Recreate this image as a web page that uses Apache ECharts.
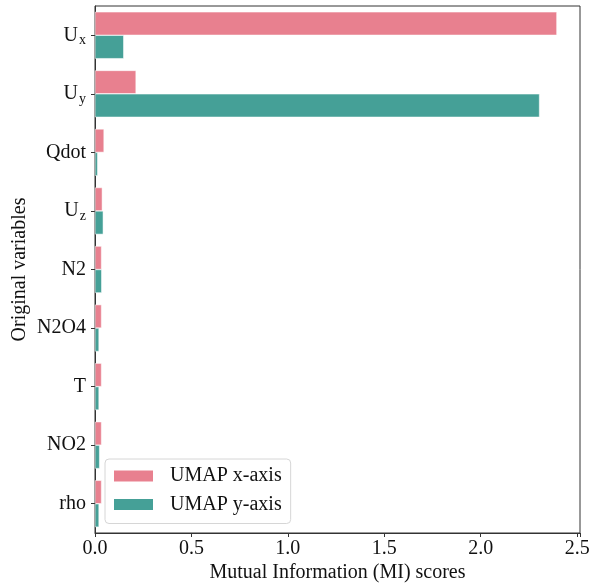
<!DOCTYPE html>
<html>
<head>
<meta charset="utf-8">
<script src="https://cdn.jsdelivr.net/npm/echarts@6/dist/echarts.min.js"></script>
<style>
  html, body { margin: 0; padding: 0; background: #fff; }
  #chart { width: 596px; height: 584px; }
</style>
</head>
<body>
<div id="chart"></div>
<script>
// Variables, top to bottom
const variables = ['Ux', 'Uy', 'Qdot', 'Uz', 'N2', 'N2O4', 'T', 'NO2', 'rho'];
// Mutual information of each variable with the UMAP coordinates
const miUmapX = [2.395, 0.213, 0.047, 0.038, 0.034, 0.034, 0.034, 0.034, 0.034];
const miUmapY = [0.149, 2.305, 0.014, 0.043, 0.035, 0.021, 0.021, 0.024, 0.021];
const seriesNames = ['UMAP x-axis', 'UMAP y-axis'];
const xTicks = [0, 0.5, 1.0, 1.5, 2.0, 2.5];

const FONT = 'Liberation Serif';
const FS = 20;
const pink = '#e8808f';
const teal = '#45a097';

const xMax = Math.max(...miUmapX, ...miUmapY) * 1.05;

// Velocity components get a subscript
function catLabel(v) {
  const m = /^U([xyz])$/.exec(v);
  if (m) return '{u|U}{s|' + m[1] + '}';
  return '{u|' + v + '}';
}

const chart = echarts.init(document.getElementById('chart'), null, { renderer: 'canvas' });
chart.setOption({
  animation: false,
  backgroundColor: '#fff',
  textStyle: { fontFamily: FONT },
  grid: {
    left: 95, right: 16, top: 6, bottom: 51,
    outerBoundsMode: 'none',
    containLabel: false,
    show: true, borderColor: '#333', borderWidth: 1, backgroundColor: 'transparent'
  },
  legend: {
    orient: 'vertical',
    left: 105, top: 459,
    padding: [7, 9, 9, 7],
    itemGap: 8.5,
    itemWidth: 41, itemHeight: 13,
    borderColor: '#d6d6d6', borderWidth: 1, borderRadius: 4,
    backgroundColor: 'rgba(255,255,255,0.8)',
    icon: 'rect',
    textStyle: { fontFamily: FONT, fontSize: FS, color: '#111', padding: [0, 0, 0, 11] },
    data: seriesNames
  },
  xAxis: {
    type: 'value',
    min: 0,
    max: xMax,
    interval: 0.5,
    name: 'Mutual Information (MI) scores',
    nameLocation: 'middle',
    nameGap: 30,
    nameMoveOverlap: false,
    nameTextStyle: { fontFamily: FONT, fontSize: FS, color: '#111' },
    axisLine: { show: true, lineStyle: { color: '#333', width: 1 } },
    axisTick: { show: true, length: 4, lineStyle: { color: '#333' } },
    axisLabel: {
      fontFamily: FONT, fontSize: FS, color: '#111', margin: 6,
      formatter: v => xTicks.some(t => Math.abs(t - v) < 1e-9) ? v.toFixed(1) : ''
    },
    splitLine: { show: false }
  },
  yAxis: {
    type: 'category',
    inverse: true,
    data: variables,
    name: 'Original variables',
    nameLocation: 'middle',
    nameGap: 65,
    nameMoveOverlap: false,
    nameTextStyle: { fontFamily: FONT, fontSize: FS, color: '#111' },
    axisLine: { show: true, lineStyle: { color: '#333', width: 1 } },
    axisTick: { show: true, alignWithLabel: true, length: 4, lineStyle: { color: '#333' } },
    axisLabel: {
      margin: 9,
      formatter: catLabel,
      rich: {
        u: { fontFamily: FONT, fontSize: FS, color: '#111' },
        s: { fontFamily: FONT, fontSize: 14, color: '#111', padding: [10, 0, 0, 1] }
      }
    },
    splitLine: { show: false }
  },
  series: [
    {
      name: seriesNames[0], type: 'bar', data: miUmapX,
      itemStyle: { color: pink, borderColor: '#fff', borderWidth: 0.5 },
      barGap: '0%', barCategoryGap: '20%'
    },
    {
      name: seriesNames[1], type: 'bar', data: miUmapY,
      itemStyle: { color: teal, borderColor: '#fff', borderWidth: 0.5 },
      barGap: '0%', barCategoryGap: '20%'
    }
  ]
});
</script>
</body>
</html>
